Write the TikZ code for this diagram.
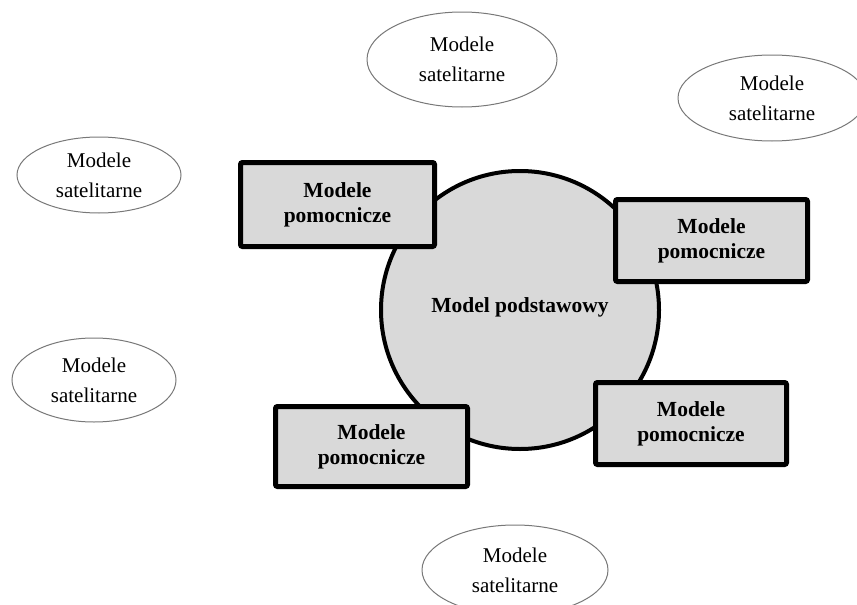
\documentclass[tikz,border=0pt]{standalone}
\usepackage{fontspec}
\setmainfont{Liberation Serif}
\usetikzlibrary{shapes.geometric}

\definecolor{boxgray}{RGB}{217,217,217}
\definecolor{rimgray}{RGB}{120,120,120}

\tikzset{
  satellite/.style={ellipse, draw=rimgray, line width=1pt, fill=white,
    inner sep=0pt, align=center,
    font=\fontsize{21}{30}\selectfont},
  helper/.style={rectangle, draw=black, line width=5pt, fill=boxgray,
    rounded corners=2pt, inner sep=0pt, align=center,
    font=\fontsize{21.5}{25}\selectfont\bfseries},
  core/.style={circle, draw=black, line width=4pt, fill=boxgray,
    inner sep=0pt, minimum size=278pt},
  corelabel/.style={font=\fontsize{21.5}{25}\selectfont\bfseries}
}

\begin{document}
\begin{tikzpicture}[x=1pt,y=-1pt]
  \useasboundingbox (0,0) rectangle (857,605);

  % basic model
  \node[core] (core) at (520,310) {};
  \node[corelabel] (corelbl) at (520,307) {Model podstawowy};

  % auxiliary models around the basic model
  \node[helper, minimum width=194pt, minimum height=84pt] (h1) at (337.5,204.5) {Modele\\pomocnicze};
  \node[helper, minimum width=192pt, minimum height=82pt] (h2) at (711.5,240.5) {Modele\\pomocnicze};
  \node[helper, minimum width=191pt, minimum height=82pt] (h3) at (691,423.5) {Modele\\pomocnicze};
  \node[helper, minimum width=192pt, minimum height=80pt] (h4) at (371.5,446.5) {Modele\\pomocnicze};

  % satellite models
  \node[satellite, minimum width=190pt, minimum height=95pt] (s1) at (462,59.5) {Modele\\satelitarne};
  \node[satellite, minimum width=188pt, minimum height=86pt] (s2) at (772,98) {Modele\\satelitarne};
  \node[satellite, minimum width=164pt, minimum height=76pt] (s3) at (99,175) {Modele\\satelitarne};
  \node[satellite, minimum width=164pt, minimum height=84pt] (s4) at (94,380) {Modele\\satelitarne};
  \node[satellite, minimum width=186pt, minimum height=90pt] (s5) at (515,570) {Modele\\satelitarne};
\end{tikzpicture}
\end{document}
